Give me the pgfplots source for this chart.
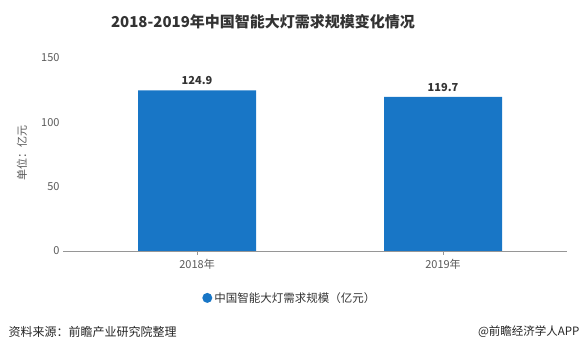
\documentclass[border=0pt]{standalone}
\usepackage{fontspec}
\setmainfont{Noto Sans CJK SC}
\usepackage{pgfplots}
\pgfplotsset{compat=1.18}
\definecolor{barblue}{RGB}{24,118,198}
\definecolor{txtgray}{RGB}{90,90,90}
\definecolor{gridgray}{RGB}{215,215,215}
\definecolor{axgray}{RGB}{150,150,150}
\begin{document}
\begin{tikzpicture}[x=1pt,y=1pt]
\useasboundingbox (0,0) rectangle (583,352);
\node[font=\fontsize{15}{17}\selectfont\bfseries, text=black!80] at (263,330) {2018-2019年中国智能大灯需求规模变化情况};
\begin{axis}[
  at={(63pt,101pt)}, anchor=south west,
  scale only axis, width=504pt, height=193pt,
  ybar, bar width=118pt,
  xmin=-0.545, xmax=1.504,
  ymin=0, ymax=150,
  xtick={0,1}, xticklabels={2018年,2019年},
  ytick={0,50,100,150},
  axis y line=none,
  axis x line*=bottom,
  x axis line style={draw=axgray, -},
  ymajorgrids, grid style={draw=gridgray, line width=0.6pt},
  xtick style={draw=axgray}, tick align=outside, major tick length=4pt,
  ytick style={draw=none},
  tick label style={font=\fontsize{11}{13}\selectfont, text=txtgray},
  /pgf/number format/assume math mode=true,
  xticklabel style={yshift=-1pt},
  nodes near coords,
  nodes near coords style={font=\fontsize{11}{13}\selectfont\bfseries, text=black!80, yshift=2pt, /pgf/number format/fixed, /pgf/number format/precision=1, /pgf/number format/fixed zerofill},
  legend style={at={(0.45,-0.243)}, anchor=center, draw=none, fill=none, font=\fontsize{11.5}{13}\selectfont, text=black!80},
  legend image code/.code={\fill[barblue] (0cm,0cm) circle (5pt);},
  clip=false,
]
\addplot[fill=barblue, draw=none, bar shift=0pt] coordinates {(0,124.9) (1,119.7)};
\addlegendentry{中国智能大灯需求规模（亿元）}
\pgfplotsinvokeforeach{0,50,100,150}{
  \node[anchor=east, font=\fontsize{11}{13}\selectfont, text=txtgray] at (axis cs:-0.545,#1) {#1\hspace{3pt}};
}
\end{axis}
\node[rotate=90, font=\fontsize{11}{13}\selectfont, text=txtgray] at (22,199) {单位：亿元};
\node[anchor=west, font=\fontsize{12}{14}\selectfont, text=black!85] at (5,20) {资料来源：前瞻产业研究院整理};
\node[anchor=east, font=\fontsize{11.5}{14}\selectfont, text=black!85] at (583,20) {@前瞻经济学人APP};
\end{tikzpicture}
\end{document}
